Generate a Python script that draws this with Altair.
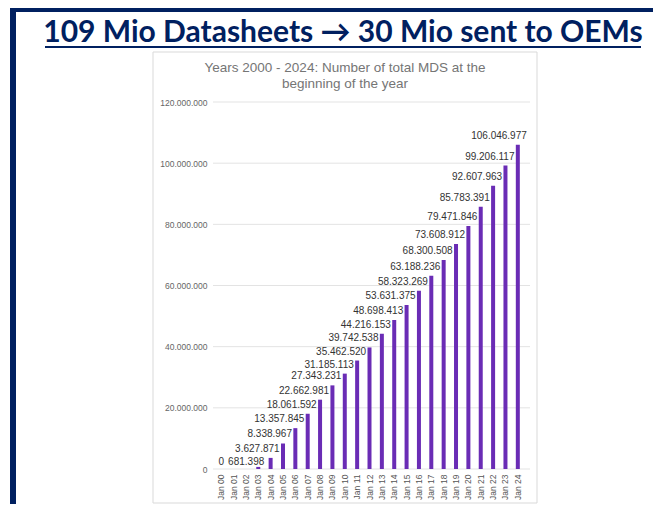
import altair as alt
import pandas as pd

months = [f"Jan {i:02d}" for i in range(25)]
values = [0, 0, 0, 681398, 3627871, 8338967, 13357845, 18061592, 22662981,
          27343231, 31185113, 35462520, 39742538, 44216153, 48698413,
          53631375, 58323269, 63188236, 68300508, 73608912, 79471846,
          85783391, 92607963, 99206117, 106046977]
y_ticks = [0, 20000000, 40000000, 60000000, 80000000, 100000000, 120000000]

slide_title = "109 Mio Datasheets \u2192 30 Mio sent to OEMs"
chart_title = ["Years 2000 - 2024:  Number of total MDS at the", "beginning of the year"]

NAVY = "#002060"
PURPLE = "#6a2cb5"

df = pd.DataFrame({"month": months, "value": values})
grid_df = pd.DataFrame({"v": y_ticks})
one = pd.DataFrame({"k": [0]})

x_enc = alt.X("month:N", sort=months, scale=alt.Scale(paddingInner=0, paddingOuter=0),
              axis=alt.Axis(title=None, labelAngle=-90, labelFontSize=8.5, labelColor="#555555",
                            labelFont="Liberation Sans", ticks=False, domain=False,
                            labelPadding=5, grid=False, zindex=2))
y_scale = alt.Scale(domain=[0, 120000000], nice=False)

# slide decorations
box = alt.Chart(one).mark_rect(fill="white", stroke="#d9d9d9", strokeWidth=1).encode(
    x=alt.value(-62), x2=alt.value(322), y=alt.value(-50), y2=alt.value(401))
left_border = alt.Chart(one).mark_rect(fill=NAVY).encode(
    x=alt.value(-205), x2=alt.value(-199), y=alt.value(-94), y2=alt.value(402))
top_border = alt.Chart(one).mark_rect(fill=NAVY).encode(
    x=alt.value(-205), x2=alt.value(440), y=alt.value(-94), y2=alt.value(-90))
title_txt = alt.Chart(one).mark_text(font="Lato", fontSize=30, fontWeight="bold", color=NAVY,
                                     align="center", baseline="alphabetic").encode(
    x=alt.value(128), y=alt.value(-60), text=alt.value(slide_title))
underline = alt.Chart(one).mark_rule(color=NAVY, strokeWidth=2).encode(
    x=alt.value(-170), x2=alt.value(426), y=alt.value(-55))
ctitle = alt.Chart(one).mark_text(font="Liberation Sans", fontSize=13.5, color="#757575",
                                  align="center", baseline="middle", lineHeight=16).encode(
    x=alt.value(130), y=alt.value(-34), text=alt.value(chart_title))

grid = alt.Chart(grid_df).mark_rule(color="#e3e3e3", strokeWidth=1).encode(
    x=alt.value(-2), x2=alt.value(315),
    y=alt.Y("v:Q", scale=y_scale,
            axis=alt.Axis(title=None, values=y_ticks, format=",d", labelFontSize=8.5,
                          labelColor="#666666", labelFont="Liberation Sans", ticks=False,
                          domain=False, grid=False, labelPadding=8, zindex=2)))

bars = alt.Chart(df).mark_bar(size=4, color=PURPLE).encode(
    x=x_enc, y=alt.Y("value:Q", scale=y_scale))


def value_labels(filter_expr, dx, dy):
    return alt.Chart(df).transform_filter(filter_expr).mark_text(
        font="Liberation Sans", fontSize=10, color="#333333", align="right",
        baseline="alphabetic", dx=dx, dy=dy).encode(
        x=alt.X("month:N", sort=months), y=alt.Y("value:Q", scale=y_scale),
        text=alt.Text("value:Q", format=",d"))


labels_main = value_labels("datum.value > 1000000", 9, -6)
label_zero = value_labels("datum.month == 'Jan 00'", 3, -4)
label_small = value_labels("datum.month == 'Jan 03'", 6, -2)

chart = alt.layer(box, left_border, top_border, title_txt, underline, ctitle,
                  grid, bars, labels_main, label_zero, label_small).properties(
    width=309, height=367,
    autosize=alt.AutoSizeParams(type="none"),
    padding={"left": 207, "top": 94, "right": 129, "bottom": 35},
    background="white",
).configure_view(strokeWidth=0)

chart.save("out.html", embed_options={
    "renderer": "svg", "actions": False,
    "formatLocale": {"decimal": ",", "thousands": ".", "grouping": [3], "currency": ["", "\u20ac"]},
})
